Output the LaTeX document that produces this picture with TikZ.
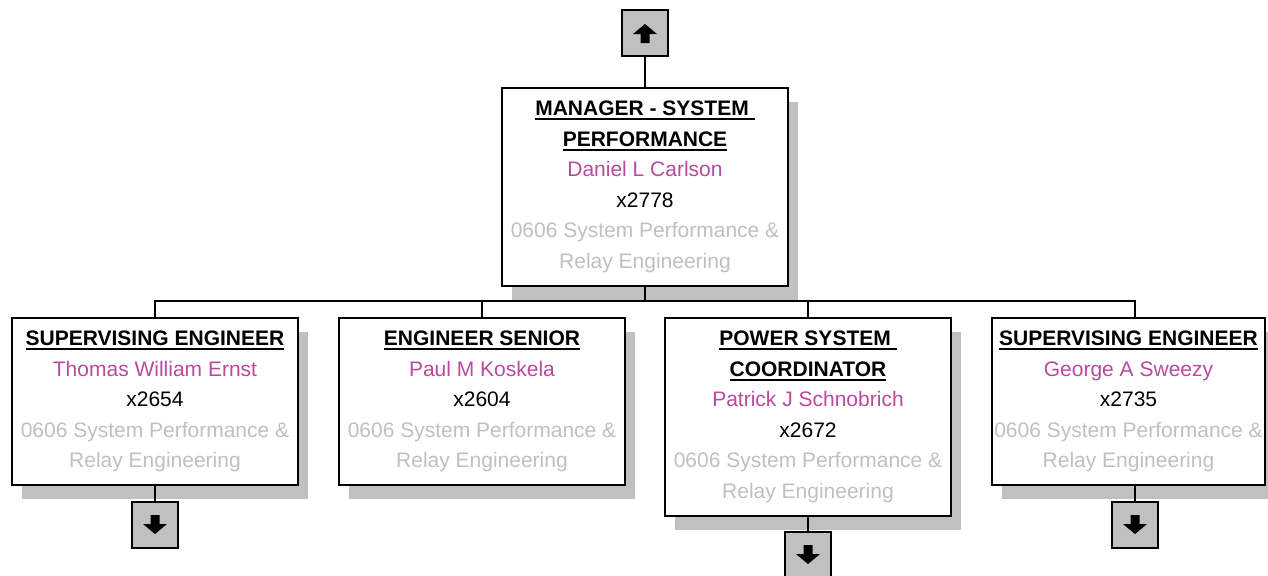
\documentclass[tikz,border=0pt]{standalone}
\usepackage{fontspec}
\setmainfont{Liberation Sans}
\usetikzlibrary{shadows}

\definecolor{namepink}{RGB}{185,74,158}
\definecolor{deptgray}{RGB}{192,192,192}
\definecolor{shadegray}{RGB}{192,192,192}

\newcommand{\ultitle}[1]{\leavevmode\setbox0=\hbox{\bfseries #1}\rlap{\rule[-2.2pt]{\wd0}{1pt}}\box0}
\newcommand{\pname}[1]{\textcolor{namepink}{#1}}
\newcommand{\dept}{\textcolor{deptgray}{0606 System Performance \&}\\\textcolor{deptgray}{Relay Engineering}}

\tikzset{
  person/.style={draw, line width=1pt, fill=white, align=center,
    minimum width=143pt, minimum height=83.5pt, inner sep=0pt,
    font=\fontsize{10.5pt}{15.25pt}\selectfont,
    drop shadow={shadow xshift=5pt, shadow yshift=-7pt, fill=shadegray, opacity=1}},
  navbox/.style={draw, line width=1pt, fill=shadegray, minimum size=23pt, inner sep=0pt},
  link/.style={line width=1pt}
}

\begin{document}
\begin{tikzpicture}[x=0.5pt, y=0.5pt]
    \useasboundingbox (0,0) rectangle (1268,-575);

    % Link to the level above
    \node[navbox] (up) at (645,-33) {};

    % Manager
    \node[person, minimum height=99pt] (mgr) at (645,-187)
        {\ultitle{MANAGER - SYSTEM\ }\\\ultitle{PERFORMANCE}\\\pname{Daniel L Carlson}\\x2778\\\dept};

    % Staff row
    \node[person] (eng1) at (155,-401.5)
        {\ultitle{SUPERVISING ENGINEER}\\\pname{Thomas William Ernst}\\x2654\\\dept};
    \node[person] (eng2) at (482,-401.5)
        {\ultitle{ENGINEER SENIOR}\\\pname{Paul M Koskela}\\x2604\\\dept};
    \node[person, minimum height=99pt] (coord) at (808,-417)
        {\ultitle{POWER SYSTEM\ }\\\ultitle{COORDINATOR}\\\pname{Patrick J Schnobrich}\\x2672\\\dept};
    \node[person, minimum width=136.5pt] (eng3) at (1128.5,-401.5)
        {\ultitle{SUPERVISING ENGINEER}\\\pname{George A Sweezy}\\x2735\\\dept};

    % Links to the level below
    \node[navbox] (down1) at (155,-525) {};
    \node[navbox] (down2) at (808,-555) {};
    \node[navbox] (down3) at (1135,-525) {};

    % Connections
    \coordinate (bus) at (645,-301);
    \draw[link] (up) -- (mgr);
    \draw[link] (mgr) -- (bus);
    \draw[link] (bus) -| (eng1.north);
    \draw[link] (bus) -| (eng2.north);
    \draw[link] (bus) -| (coord.north);
    \draw[link] (bus) -| ([xshift=3.25pt]eng3.north);
    \draw[link] (eng1) -- (down1);
    \draw[link] (coord) -- (down2);
    \draw[link] ([xshift=3.25pt]eng3.south) -- (down3);

    % Arrow marks
    \fill[shift={(up.center)}] (0,9) -- (12,-1) -- (4.5,-1) -- (4.5,-10) -- (-4.5,-10) -- (-4.5,-1) -- (-12,-1) -- cycle;
    \foreach \b in {down1, down2, down3}
        \fill[shift={(\b.center)}, yscale=-1] (0,9) -- (12,-1) -- (4.5,-1) -- (4.5,-10) -- (-4.5,-10) -- (-4.5,-1) -- (-12,-1) -- cycle;

\end{tikzpicture}
\end{document}
